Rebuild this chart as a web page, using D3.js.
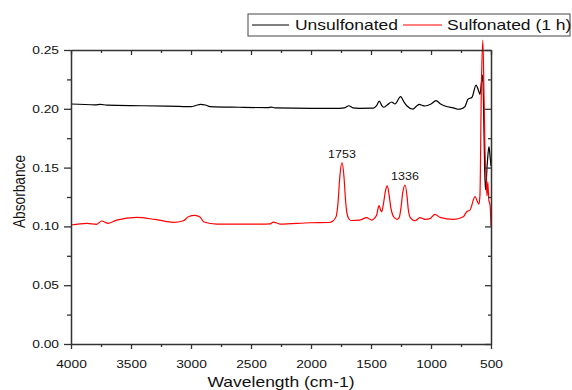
<!DOCTYPE html>
<html><head><meta charset="utf-8">
<script src="https://cdn.jsdelivr.net/npm/d3@7"></script>
<style>
body{margin:0;background:#fff}
svg{display:block}
text{font-family:"Liberation Sans",Arial,sans-serif;fill:#111}
</style></head>
<body><svg id="c" width="572" height="390"></svg>
<script>
// ---- data ----
const xTickValues=[4000,3500,3000,2500,2000,1500,1000,500];
const yTickValues=[0,0.05,0.10,0.15,0.20,0.25];
const seriesNames=["Unsulfonated","Sulfonated (1 h)"];
const seriesColors=["#000000","#ff0000"];

const unsulfWave=[4000,3800,3755,3700,3400,3100,3000,2960,2920,2880,2840,2600,2360,2330,2300,2000,1760,1720,1685,1650,1600,1480,1455,1431,1410,1392,1360,1328,1300,1253,1225,1200,1150,1120,1097,1070,1050,1000,958,920,883,800,775,740,717,692,658,625,600,592,580,569,560,553,546,530,517,508,500];
const unsulfAbs=[0.2041,0.2034,0.2038,0.2031,0.2026,0.2020,0.2018,0.2028,0.2038,0.2032,0.2018,0.2013,0.2010,0.2015,0.2008,0.2004,0.2004,0.2008,0.2026,0.2008,0.2004,0.2005,0.2024,0.2066,0.2028,0.2013,0.2036,0.2058,0.2041,0.2103,0.2058,0.2024,0.1998,0.2024,0.2038,0.2028,0.2024,0.2041,0.2069,0.2041,0.2024,0.2004,0.1996,0.2003,0.2018,0.2081,0.2098,0.2202,0.2143,0.2123,0.2220,0.2287,0.1900,0.1500,0.1310,0.1550,0.1678,0.1600,0.1514];

const sulfWave=[4000,3869,3786,3744,3689,3619,3453,3300,3147,3064,3022,2967,2925,2892,2786,2425,2340,2314,2258,2008,1850,1817,1790,1775,1760,1742,1725,1712,1700,1685,1665,1592,1536,1494,1470,1453,1433,1420,1411,1395,1380,1364,1348,1335,1319,1300,1281,1265,1250,1235,1217,1200,1190,1175,1150,1133,1092,1050,1008,967,925,814,731,703,675,633,615,600,592,580,568,558,550,540,533,527,518,508,500];
const sulfAbs=[0.1012,0.1026,0.1018,0.1046,0.1026,0.1054,0.1077,0.1059,0.1035,0.1048,0.1082,0.1094,0.1080,0.1037,0.1020,0.1020,0.1022,0.1037,0.1020,0.1031,0.1033,0.1046,0.1085,0.1200,0.1420,0.1542,0.1420,0.1220,0.1110,0.1065,0.1050,0.1054,0.1074,0.1054,0.1070,0.1097,0.1176,0.1140,0.1125,0.1200,0.1300,0.1344,0.1260,0.1160,0.1097,0.1068,0.1060,0.1075,0.1160,0.1290,0.1352,0.1260,0.1150,0.1080,0.1055,0.1048,0.1074,0.1060,0.1066,0.1103,0.1077,0.1060,0.1082,0.1125,0.1139,0.1253,0.1215,0.1190,0.1267,0.2200,0.2585,0.2100,0.1650,0.1395,0.1259,0.1378,0.1224,0.1182,0.1003];

const peakLabels=["1753","1336"];
const peakWave=[1742,1217];
const peakAbs=[0.1542,0.1352];

// ---- chart ----
const svg=d3.select("#c");
const SX=1.25; // horizontal stretch of the reference's text
const x=d3.scaleLinear().domain([4000,500]).range([71,491]);
const y=d3.scaleLinear().domain([0,0.25]).range([344,50]);
const axisColor="#333";

const xMinor=d3.range(4000,499,-250).filter(v=>!xTickValues.includes(v));
const yMinor=d3.range(0,0.2501,0.025).filter(v=>!yTickValues.some(t=>Math.abs(t-v)<1e-9));

function styleAxis(g){
  g.selectAll("path.domain").attr("stroke",axisColor).attr("stroke-width",1.5);
  g.selectAll(".tick line").attr("stroke",axisColor).attr("stroke-width",1.3);
}

// lines (under axes)
const line=d3.line().x(d=>x(d[0])).y(d=>y(d[1])).curve(d3.curveMonotoneX);
const seriesData=[
  d3.zip(unsulfWave,unsulfAbs),
  d3.zip(sulfWave,sulfAbs)
];
seriesData.forEach((s,i)=>{
  svg.append("path").datum(s.slice().sort((a,b)=>x(a[0])-x(b[0])))
    .attr("d",line).attr("fill","none")
    .attr("stroke",seriesColors[i]).attr("stroke-width",1.2);
});

// bottom axis
const gb=svg.append("g").attr("transform","translate(0,344)")
  .call(d3.axisBottom(x).tickValues(xTickValues).tickSize(5).tickSizeOuter(0).tickPadding(11).tickFormat(d3.format("d")));
svg.append("g").attr("transform","translate(0,344)")
  .call(d3.axisBottom(x).tickValues(xMinor).tickSize(3).tickSizeOuter(0).tickFormat(""))
  .call(g=>g.select(".domain").remove()).call(styleAxis);
styleAxis(gb);
gb.selectAll(".tick text").attr("font-size",11).attr("fill","#111")
  .attr("transform",`scale(${SX},1)`);

// top axis (inward ticks)
const gt=svg.append("g").attr("transform","translate(0,50)")
  .call(d3.axisBottom(x).tickValues(xTickValues).tickSize(5).tickSizeOuter(0).tickFormat(""));
styleAxis(gt);
svg.append("g").attr("transform","translate(0,50)")
  .call(d3.axisBottom(x).tickValues(xMinor).tickSize(3).tickSizeOuter(0).tickFormat(""))
  .call(g=>g.select(".domain").remove()).call(styleAxis);

// left axis
const gl=svg.append("g").attr("transform","translate(71,0)")
  .call(d3.axisLeft(y).tickValues(yTickValues).tickSize(7).tickSizeOuter(0).tickFormat(d3.format(".2f")));
svg.append("g").attr("transform","translate(71,0)")
  .call(d3.axisLeft(y).tickValues(yMinor).tickSize(4).tickSizeOuter(0).tickFormat(""))
  .call(g=>g.select(".domain").remove()).call(styleAxis);
styleAxis(gl);
gl.selectAll(".tick text").attr("font-size",11).attr("fill","#111")
  .attr("x",-12/SX).attr("transform",`scale(${SX},1)`);

// right axis (inward ticks)
const gr=svg.append("g").attr("transform","translate(491,0)")
  .call(d3.axisLeft(y).tickValues(yTickValues).tickSize(6).tickSizeOuter(0).tickFormat(""));
styleAxis(gr);
svg.append("g").attr("transform","translate(491,0)")
  .call(d3.axisLeft(y).tickValues(yMinor).tickSize(3).tickSizeOuter(0).tickFormat(""))
  .call(g=>g.select(".domain").remove()).call(styleAxis);

// axis titles
svg.append("text").attr("transform",`translate(281,387) scale(${SX},1)`)
  .attr("text-anchor","middle").attr("font-size",14).text("Wavelength (cm-1)");
svg.append("text").attr("transform",`translate(25,191.5) rotate(-90) scale(1,${SX})`)
  .attr("text-anchor","middle").attr("font-size",13.7).text("Absorbance");

// peak annotations
peakLabels.forEach((t,i)=>{
  svg.append("text")
    .attr("transform",`translate(${x(peakWave[i])},${y(peakAbs[i])-5}) scale(${SX},1)`)
    .attr("text-anchor","middle").attr("font-size",10).attr("fill","#222").text(t);
});

// legend
svg.append("rect").attr("x",248).attr("y",14).attr("width",322).attr("height",22)
  .attr("fill","#fff").attr("stroke","#444").attr("stroke-width",1);
const legX=[[252,289,295],[403,442,447]];
seriesNames.forEach((n,i)=>{
  svg.append("line").attr("x1",legX[i][0]).attr("x2",legX[i][1]).attr("y1",25).attr("y2",25)
    .attr("stroke",seriesColors[i]).attr("stroke-width",1.2);
  svg.append("text").attr("transform",`translate(${legX[i][2]},30) scale(${SX},1)`)
    .attr("font-size",14).text(n);
});
</script></body></html>
